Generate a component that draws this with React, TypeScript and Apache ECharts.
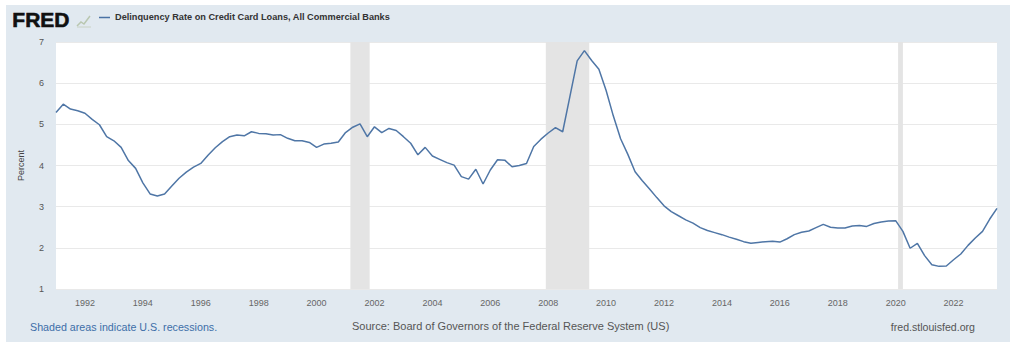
import React, { useEffect, useRef } from "react";
import * as echarts from "echarts";

// Quarterly series, first point = 1991 Q1
const startYear = 1991;
const delinquencyRate = [
  5.29, 5.49, 5.37, 5.33,
  5.27, 5.12, 4.99, 4.70,
  4.60, 4.44, 4.12, 3.93,
  3.58, 3.31, 3.26, 3.31,
  3.50, 3.69, 3.84, 3.96,
  4.05, 4.25, 4.43, 4.58,
  4.70, 4.74, 4.72, 4.82,
  4.78, 4.77, 4.74, 4.75,
  4.66, 4.60, 4.60, 4.56,
  4.44, 4.52, 4.54, 4.57,
  4.80, 4.93, 5.01, 4.70,
  4.94, 4.80, 4.90, 4.85,
  4.70, 4.54, 4.26, 4.44,
  4.23, 4.15, 4.07, 4.01,
  3.73, 3.67, 3.91, 3.55,
  3.89, 4.14, 4.13, 3.97,
  4.00, 4.05, 4.46, 4.64,
  4.79, 4.92, 4.82, 5.68,
  6.54, 6.79, 6.55, 6.34,
  5.82, 5.20, 4.65, 4.27,
  3.85, 3.63, 3.43, 3.22,
  3.02, 2.88, 2.78, 2.68,
  2.60, 2.49, 2.42, 2.37,
  2.32, 2.26, 2.21, 2.15,
  2.11, 2.13, 2.15, 2.16,
  2.14, 2.22, 2.32, 2.38,
  2.41, 2.49, 2.57, 2.50,
  2.48, 2.48, 2.53, 2.54,
  2.52, 2.59, 2.63, 2.65,
  2.66, 2.40, 1.99, 2.11,
  1.81, 1.59, 1.55, 1.56,
  1.71, 1.85, 2.06, 2.24,
  2.40, 2.70, 2.96,
];

const recessionStarts = ["2001-03", "2007-12", "2020-02"];
const recessionEnds = ["2001-11", "2009-06", "2020-04"];

const yTicks = [1, 2, 3, 4, 5, 6, 7];
const xLabelYears = [1992, 1994, 1996, 1998, 2000, 2002, 2004, 2006, 2008, 2010, 2012, 2014, 2016, 2018, 2020, 2022];

const seriesName = "Delinquency Rate on Credit Card Loans, All Commercial Banks";

const monthToYear = (s: string) => {
  const [y, m] = s.split("-").map(Number);
  return y + (m - 1) / 12;
};

export default function App() {
  const ref = useRef<HTMLDivElement>(null);

  useEffect(() => {
    if (!ref.current) return;
    const chart = echarts.init(ref.current, undefined, { renderer: "svg" });
    const points = delinquencyRate.map((v, i) => [startYear + i * 0.25, v]);
    const lastX = startYear + (delinquencyRate.length - 1) * 0.25;
    const font = "'Liberation Sans', Arial, sans-serif";

    chart.setOption({
      animation: false,
      backgroundColor: "transparent",
      grid: {
        left: 56,
        right: 19,
        top: 42,
        bottom: 64,
        show: true,
        backgroundColor: "#ffffff",
        borderWidth: 0,
      },
      xAxis: {
        type: "value",
        min: startYear,
        max: lastX,
        interval: 1,
        axisLine: { show: false },
        axisTick: { show: false },
        splitLine: { show: false },
        axisLabel: {
          fontSize: 9,
          color: "#666",
          fontFamily: font,
          margin: 9,
          formatter: (v: number) => {
            const r = Math.round(v);
            return Math.abs(v - r) < 1e-6 && xLabelYears.includes(r) ? String(r) : "";
          },
        },
      },
      yAxis: {
        type: "value",
        min: yTicks[0],
        max: yTicks[yTicks.length - 1],
        interval: 1,
        name: "Percent",
        nameLocation: "middle",
        nameGap: 31,
        nameTextStyle: { fontSize: 9, color: "#444", fontFamily: font },
        axisLine: { show: false },
        axisTick: { show: false },
        axisLabel: { fontSize: 9, color: "#555", fontFamily: font, margin: 12 },
        splitLine: { show: true, lineStyle: { color: "#e9e9e9", width: 1 } },
      },
      graphic: [
        {
          type: "text",
          left: 12,
          top: 9,
          style: {
            text: "FRED",
            font: `bold 21px ${font}`,
            fill: "#111",
            stroke: "#111",
            lineWidth: 0.6,
          },
        },
        {
          type: "polyline",
          shape: { points: [[77, 26], [81, 22], [84, 24], [90, 16]] },
          style: { stroke: "#b9c7b0", lineWidth: 1.5, fill: "none" },
        },
        {
          type: "line",
          shape: { x1: 77, y1: 27, x2: 91, y2: 27 },
          style: { stroke: "#c9d2c4", lineWidth: 1 },
        },
        {
          type: "line",
          shape: { x1: 99, y1: 17.5, x2: 110, y2: 17.5 },
          style: { stroke: "#4a72a4", lineWidth: 1.5 },
        },
        {
          type: "text",
          left: 115,
          top: 12,
          style: {
            text: seriesName,
            font: `bold 9.2px ${font}`,
            fill: "#333",
          },
        },
        {
          type: "text",
          left: 30,
          top: 321,
          style: {
            text: "Shaded areas indicate U.S. recessions.",
            font: `10.7px ${font}`,
            fill: "#3d6ea8",
          },
        },
        {
          type: "text",
          left: 352,
          top: 320,
          style: {
            text: "Source: Board of Governors of the Federal Reserve System (US)",
            font: `11px ${font}`,
            fill: "#555",
          },
        },
        {
          type: "text",
          right: 41,
          top: 321,
          style: {
            text: "fred.stlouisfed.org",
            font: `10.6px ${font}`,
            fill: "#555",
          },
        },
      ],
      series: [
        {
          name: seriesName,
          type: "line",
          data: points,
          showSymbol: false,
          symbol: "none",
          lineStyle: { color: "#4f76a6", width: 1.5 },
          markArea: {
            silent: true,
            itemStyle: { color: "#e4e4e4" },
            data: recessionStarts.map((s, i) => [
              { xAxis: monthToYear(s) },
              { xAxis: monthToYear(recessionEnds[i]) },
            ]),
          },
        },
      ],
    });

    return () => chart.dispose();
  }, []);

  return (
    <div style={{ position: "absolute", left: 0, top: 0, width: 1016, height: 353, background: "#ffffff" }}>
      <div style={{ position: "absolute", left: 6, top: 5, width: 1004, height: 337, background: "#e1e9f0" }} />
      <div ref={ref} style={{ position: "absolute", left: 0, top: 0, width: 1016, height: 353 }} />
    </div>
  );
}
